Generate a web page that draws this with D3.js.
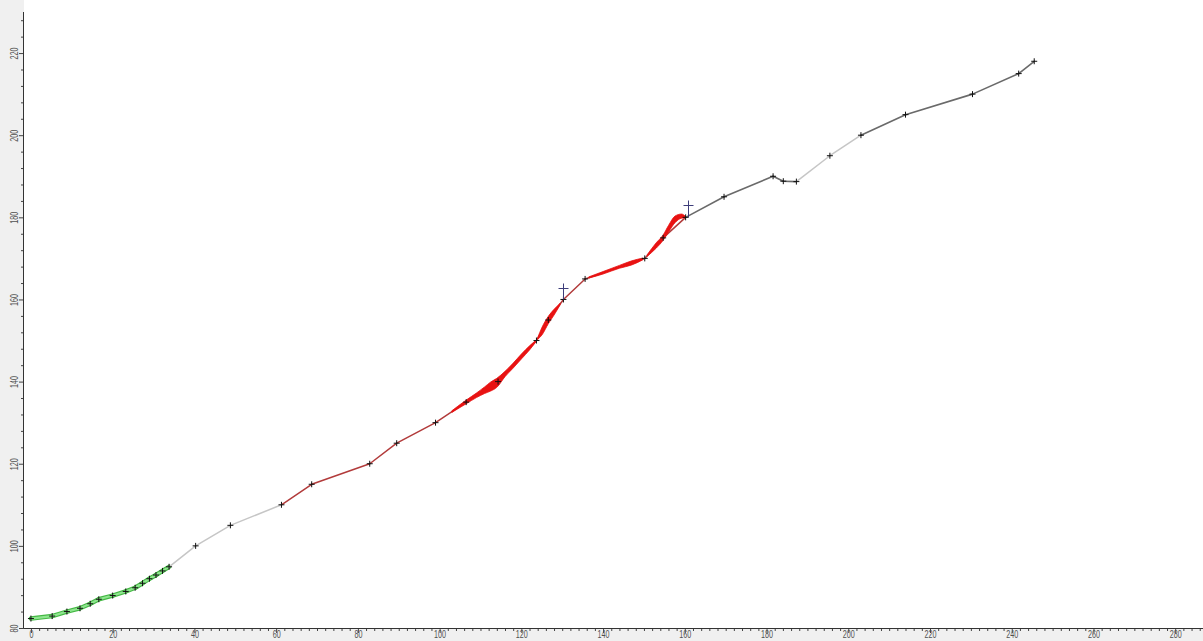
<!DOCTYPE html>
<html>
<head>
<meta charset="utf-8">
<script src="https://cdn.jsdelivr.net/npm/d3@7/dist/d3.min.js"></script>
<style>
  html, body { margin: 0; padding: 0; background: #ffffff; }
  svg { display: block; }
  .tick-label { font-family: "Liberation Sans", Arial, sans-serif; font-size: 10px; fill: #505050; }
</style>
</head>
<body>
<svg id="chart" width="1203" height="641"></svg>
<script>
// Measured track: x position and value at each recorded point
const trackX = [0, 5.2, 8.8, 12, 14.5, 16.6, 20, 23.2, 25.5, 27.3, 29, 30.6, 32.2, 33.8,
  40.3, 48.8, 61.3, 68.7, 82.9, 89.5, 99, 106.5, 114.3, 123.7, 126.6, 130.3, 135.6,
  150.2, 154.7, 160.2, 169.6, 181.6, 184.1, 187.3, 195.5, 203.1, 214, 230.4, 241.7, 245.5];
const trackY = [82.3, 82.9, 84, 84.8, 85.9, 87, 87.9, 88.9, 89.8, 90.9, 92, 92.9, 93.9, 94.9,
  100, 105, 110, 115, 120, 125, 130, 135, 140, 150, 155, 160, 165,
  170, 175, 180, 185, 190, 188.8, 188.7, 195, 200, 205, 210, 215, 218];

// Phase of each segment between consecutive points
const segmentPhase = [
  "early", "early", "early", "early", "early", "early", "early", "early", "early", "early", "early", "early", "early",
  "gap", "gap", "gap",
  "mid", "mid", "mid", "mid", "mid", "mid", "mid", "mid", "mid", "mid", "mid", "mid", "mid",
  "late", "late", "late", "late",
  "gap", "gap",
  "late", "late", "late", "late"
];

// Spread band along the middle phase (null separates stretches)
const bandX  = [103, 106.5, 109, 111, 112.5, 114, 116, 118, 120, 122, 123.5, null,
  124, 125, 126.6, 128, 129.5, null,
  136.5, 140, 144, 147, 149.8, null,
  150.8, 153, 154.7, 156, 157.6, 159.2, 160.1];
const bandLo = [132.5, 134.6, 136.1, 137.1, 137.7, 138.6, 141.2, 143.3, 145.5, 147.7, 149.6, null,
  150.3, 151.3, 154.1, 156.2, 158.7, null,
  165.2, 166.2, 167.6, 168.4, 169.7, null,
  170.5, 172.5, 174.4, 176.4, 178.7, 179.8, 179.9];
const bandHi = [132.9, 135.5, 137.2, 138.7, 139.9, 140.8, 142.5, 144.5, 146.7, 148.7, 150.0, null,
  150.7, 153.1, 155.9, 157.6, 159.1, null,
  165.5, 166.8, 168.3, 169.4, 170.1, null,
  170.9, 173.8, 175.7, 178.0, 180.3, 180.8, 180.3];

// Reference targets with the point they belong to
const targetX = [130.3, 160.8];
const targetY = [162.8, 183.1];
const targetFromY = [160, 180];

// Axis ticks
const xMajorTicks = [0, 20, 40, 60, 80, 100, 120, 140, 160, 180, 200, 220, 240, 260, 280];
const yMajorTicks = [80, 100, 120, 140, 160, 180, 200, 220];

const W = 1203, H = 641;
const plotLeft = 24, plotBottom = 628, plotTop = 12;
const svg = d3.select("#chart");

const x = d3.scaleLinear().domain([-1.7, 286.8]).range([plotLeft, W]);
const y = d3.scaleLinear().domain([80, 230]).range([plotBottom, plotTop]);

// Frame margins
svg.append("rect").attr("x", 0).attr("y", 0).attr("width", plotLeft).attr("height", H).attr("fill", "#f0f0f0");
svg.append("rect").attr("x", 0).attr("y", plotBottom).attr("width", W).attr("height", H - plotBottom).attr("fill", "#f0f0f0");

// Minor ticks
const xMinor = d3.range(0, 287, 2).filter(v => v % 20 !== 0);
const yMinor = d3.range(80, 231, 4).filter(v => v % 20 !== 0);

const gx = svg.append("g").attr("transform", `translate(0,${plotBottom})`);
gx.append("g").call(d3.axisBottom(x).tickValues(xMinor).tickSize(3).tickFormat(""))
  .call(g => g.select(".domain").remove())
  .call(g => g.selectAll("line").attr("stroke", "#444"));
gx.append("g").call(d3.axisBottom(x).tickValues(xMajorTicks).tickSize(5).tickPadding(0).tickFormat(d3.format("d")))
  .call(g => g.select(".domain").remove())
  .call(g => g.selectAll("line").attr("stroke", "#444"))
  .call(g => g.selectAll("text").attr("class", "tick-label").attr("fill", null)
    .attr("y", 3).attr("transform", "scale(0.72,1)"));
gx.append("line").attr("x1", plotLeft).attr("x2", W).attr("y1", 0.5).attr("y2", 0.5).attr("stroke", "#333");

const gy = svg.append("g").attr("transform", `translate(${plotLeft},0)`);
gy.append("g").call(d3.axisLeft(y).tickValues(yMinor).tickSize(3).tickFormat(""))
  .call(g => g.select(".domain").remove())
  .call(g => g.selectAll("line").attr("stroke", "#444"));
gy.append("g").call(d3.axisLeft(y).tickValues(yMajorTicks).tickSize(5).tickFormat(d3.format("d")))
  .call(g => g.select(".domain").remove())
  .call(g => g.selectAll("line").attr("stroke", "#444"))
  .call(g => g.selectAll("text").attr("class", "tick-label").attr("fill", null)
    .attr("x", 0).attr("dy", "0.35em").attr("text-anchor", "middle")
    .attr("transform", "translate(-10,0) rotate(-90) scale(0.72,1)"));
gy.append("line").attr("x1", -0.5).attr("x2", -0.5).attr("y1", plotTop).attr("y2", plotBottom).attr("stroke", "#333");

// Track segments
const pts = trackX.map((v, i) => [x(v), y(trackY[i])]);
const plot = svg.append("g");

const segs = segmentPhase.map((p, i) => ({ phase: p, a: pts[i], b: pts[i + 1] }));
const lineGen = d3.line();

// Early phase drawn as a wide green ribbon
const early = segs.filter(s => s.phase === "early");
plot.selectAll("path.early-outer").data(early).join("path")
  .attr("d", s => lineGen([s.a, s.b])).attr("fill", "none")
  .attr("stroke", "#45b845").attr("stroke-width", 4.5).attr("stroke-linecap", "round");
plot.selectAll("path.early-inner").data(early).join("path")
  .attr("d", s => lineGen([s.a, s.b])).attr("fill", "none")
  .attr("stroke", "#8ee68e").attr("stroke-width", 2.2).attr("stroke-linecap", "round");

const phaseStroke = { gap: "#c6c6c6", mid: "#b23b3b", late: "#6a6a6a" };
const phaseWidth = { gap: 1.5, mid: 1.5, late: 1.6 };
plot.selectAll("path.seg").data(segs.filter(s => s.phase !== "early")).join("path")
  .attr("d", s => lineGen([s.a, s.b])).attr("fill", "none")
  .attr("stroke", s => phaseStroke[s.phase]).attr("stroke-width", s => phaseWidth[s.phase])
  .attr("stroke-linecap", "round");

// Spread band
const band = d3.area()
  .defined((d, i) => bandX[i] !== null)
  .x((d, i) => x(bandX[i]))
  .y0((d, i) => y(bandLo[i]))
  .y1((d, i) => y(bandHi[i]))
  .curve(d3.curveMonotoneX);
plot.append("path").attr("d", band(bandX)).attr("fill", "#e81212").attr("stroke", "#e81212").attr("stroke-width", 0.8);

// Point markers
plot.selectAll("path.mark").data(pts).join("path")
  .attr("d", p => `M${p[0] - 3},${p[1]}H${p[0] + 3}M${p[0]},${p[1] - 3}V${p[1] + 3}`)
  .attr("stroke", "#111").attr("stroke-width", 1).attr("fill", "none");

// Target crosses
plot.selectAll("path.target").data(targetX).join("path")
  .attr("d", (v, i) => {
    const cx = Math.round(x(v)) + 0.5, cy = Math.round(y(targetY[i])) + 0.5, fy = y(targetFromY[i]);
    return `M${cx - 5},${cy}H${cx + 5}M${cx},${cy - 5}V${fy}`;
  })
  .attr("stroke", "#3d3d7a").attr("stroke-width", 1).attr("fill", "none");
</script>
</body>
</html>
